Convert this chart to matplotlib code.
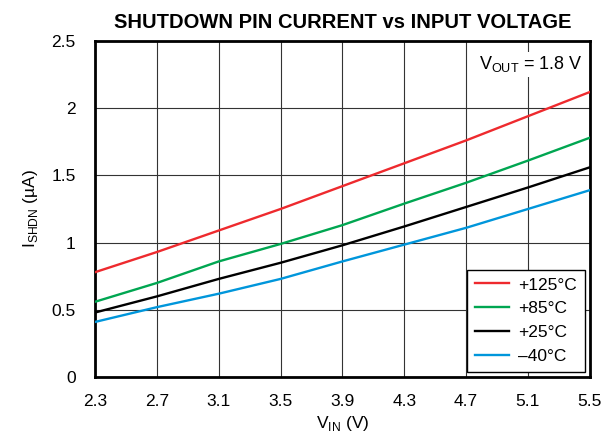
import matplotlib
matplotlib.use("Agg")
import matplotlib.pyplot as plt

plt.rcParams['font.family'] = ['Liberation Sans', 'DejaVu Sans']

# input voltage (V)
vin = [2.3, 2.7, 3.1, 3.5, 3.9, 4.3, 4.7, 5.1, 5.5]
# shutdown pin current (uA) per temperature
i_125 = [0.78, 0.93, 1.09, 1.25, 1.42, 1.59, 1.76, 1.94, 2.12]
i_85 = [0.56, 0.70, 0.86, 0.99, 1.13, 1.29, 1.445, 1.61, 1.78]
i_25 = [0.48, 0.60, 0.73, 0.85, 0.98, 1.12, 1.265, 1.41, 1.56]
i_m40 = [0.41, 0.52, 0.62, 0.73, 0.86, 0.985, 1.11, 1.25, 1.39]

labels = ["+125°C", "+85°C", "+25°C", "–40°C"]
colors = ["#EE2A2E", "#00A651", "#000000", "#0096DB"]

xticks = [2.3, 2.7, 3.1, 3.5, 3.9, 4.3, 4.7, 5.1, 5.5]
yticks = [0, 0.5, 1, 1.5, 2, 2.5]

fig = plt.figure(figsize=(6.15, 4.4), dpi=100)
ax = fig.add_axes([0.1545, 0.143, 0.8045, 0.764])

for ys, lab, c in zip([i_125, i_85, i_25, i_m40], labels, colors):
    ax.plot(vin, ys, color=c, lw=1.7, label=lab, zorder=3)

ax.set_xlim(2.3, 5.5)
ax.set_ylim(0, 2.5)
ax.set_xticks(xticks)
ax.set_xticklabels([f"{t:.1f}" for t in xticks])
ax.set_yticks(yticks)
ax.set_yticklabels(["0", "0.5", "1", "1.5", "2", "2.5"])
ax.tick_params(axis="x", length=0, labelsize=12.5, pad=12)
ax.tick_params(axis="y", length=0, labelsize=12.5, pad=14)
ax.grid(True, color="#333333", lw=0.8)
for s in ax.spines.values():
    s.set_linewidth(2)

ax.set_title("SHUTDOWN PIN CURRENT vs INPUT VOLTAGE", fontsize=14.5,
             fontweight="bold", pad=9)
ax.set_xlabel(r"V$_{\mathregular{IN}}$ (V)", fontsize=12.5, labelpad=4)
ax.set_ylabel(r"I$_{\mathregular{SHDN}}$ (µA)", fontsize=12.5, labelpad=8)

ax.text(0.985, 0.96, r"V$_{\mathregular{OUT}}$ = 1.8 V", transform=ax.transAxes,
        ha="right", va="top", fontsize=13, zorder=4,
        bbox=dict(facecolor="white", edgecolor="none", pad=2))

leg = ax.legend(loc="lower right", fontsize=12.5, fancybox=False, framealpha=1,
                edgecolor="black", handlelength=2.0, borderaxespad=0.3,
                labelspacing=0.5, handletextpad=0.5, borderpad=0.45)
leg.get_frame().set_linewidth(1.0)

fig.savefig("out.png", dpi=100)
